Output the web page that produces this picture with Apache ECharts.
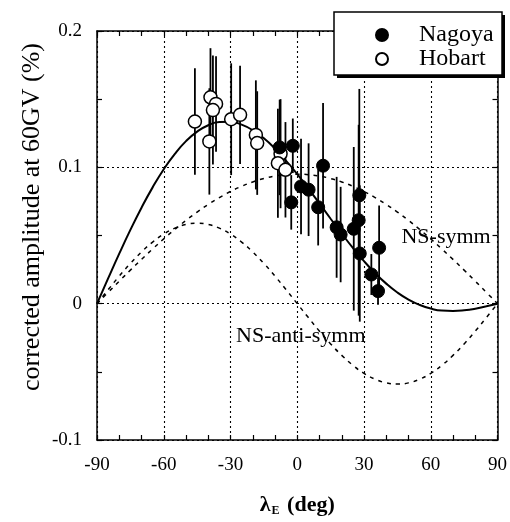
<!DOCTYPE html>
<html><head><meta charset="utf-8">
<script src="https://cdn.jsdelivr.net/npm/echarts@6/dist/echarts.min.js"></script>
<style>html,body{margin:0;padding:0;background:#fff}#c{width:510px;height:522px}</style>
</head><body><div id="c"></div>
<script>
// ---- data ----
const xTickLabels = ['-90','-60','-30','0','30','60','90'];
const yTickLabels = ['-0.1','0','0.1','0.2'];

const nagoyaLat = [-7.9, -2.0, -2.7, 1.7, 5.1, 11.6, 9.4, 17.7, 19.5, 27.9, 27.6, 25.4, 28.1, 36.8, 33.3, 36.3];
const nagoyaAmp = [0.1146, 0.1158, 0.0743, 0.086, 0.0836, 0.1012, 0.0707, 0.056, 0.0507, 0.0795, 0.0612, 0.0549, 0.0368, 0.041, 0.0214, 0.0092];
const nagoyaErr = [0.035, 0.02, 0.02, 0.035, 0.034, 0.046, 0.028, 0.037, 0.035, 0.078, 0.07, 0.06, 0.05, 0.031, 0.015, 0.01];

const hobartLat = [-46.0, -39.0, -36.5, -37.9, -39.5, -29.7, -25.7, -18.6, -18.0, -7.5, -8.7, -5.3];
const hobartAmp = [0.1336, 0.1514, 0.1465, 0.142, 0.119, 0.1353, 0.1385, 0.1238, 0.1178, 0.110, 0.103, 0.0982];
const hobartErr = [0.039, 0.036, 0.035, 0.04, 0.039, 0.041, 0.036, 0.04, 0.038, 0.04, 0.04, 0.035];

const curveLat = [-90,-85,-80,-75,-70,-65,-60,-55,-50,-45,-40,-35,-30,-25,-20,-15,-10,-5,0,5,10,15,20,25,30,35,40,45,50,55,60,65,70,75,80,85,90];
const symmCurve = [0, 0.0083, 0.0165, 0.0246, 0.0325, 0.0401, 0.0475, 0.0545, 0.0611, 0.0672, 0.0728, 0.0778, 0.0823, 0.0861, 0.0893, 0.0918, 0.0936, 0.0946, 0.095, 0.0946, 0.0936, 0.0918, 0.0893, 0.0861, 0.0823, 0.0778, 0.0728, 0.0672, 0.0611, 0.0545, 0.0475, 0.0401, 0.0325, 0.0246, 0.0165, 0.0083, 0];
const antiCurve = [0, 0.0102, 0.0202, 0.0295, 0.0379, 0.0452, 0.0511, 0.0554, 0.0581, 0.059, 0.0581, 0.0554, 0.0511, 0.0452, 0.0379, 0.0295, 0.0202, 0.0102, 0, -0.0102, -0.0202, -0.0295, -0.0379, -0.0452, -0.0511, -0.0554, -0.0581, -0.059, -0.0581, -0.0554, -0.0511, -0.0452, -0.0379, -0.0295, -0.0202, -0.0102, 0];
const totalCurve = [0, 0.0185, 0.0367, 0.0541, 0.0704, 0.0853, 0.0986, 0.1099, 0.1192, 0.1262, 0.1309, 0.1332, 0.1334, 0.1313, 0.1272, 0.1213, 0.1138, 0.1048, 0.095, 0.0844, 0.0734, 0.0623, 0.0514, 0.0409, 0.0312, 0.0224, 0.0147, 0.0082, 0.003, -0.0009, -0.0036, -0.0051, -0.0054, -0.0049, -0.0037, -0.0019, 0];

// ---- chart ----
const F = "'Liberation Serif','Times New Roman',serif";
const chart = echarts.init(document.getElementById('c'));
const pair = (xs, ys) => xs.map((x, i) => [x, ys[i]]);
const bars = (xs, ys, es) => xs.map((x, i) => [x, ys[i] - es[i], ys[i] + es[i]]);
const fmtX = v => { const i = xTickLabels.indexOf(String(Math.round(v))); return i >= 0 ? xTickLabels[i] : ''; };
const fmtY = v => { const s = String(Math.round(v * 10) / 10); const i = yTickLabels.indexOf(s); return i >= 0 ? yTickLabels[i] : ''; };

const lineK = {color: '#000', width: 1.5};
const tickK = {inside: true, length: 5, lineStyle: {color: '#000', width: 1.2}};
function xAx(pos, main) {
  return {
    type: 'value', min: -90, max: 90, interval: 30, position: pos,
    axisLine: {show: true, onZero: false, lineStyle: lineK},
    axisTick: tickK,
    minorTick: {show: true, splitNumber: 3, length: 5, lineStyle: {color: '#000', width: 1.2}},
    splitLine: {show: main, lineStyle: {type: [2, 3], color: '#000', width: 1.1}},
    axisLabel: {show: main, formatter: fmtX, fontFamily: F, fontSize: 19, color: '#000', margin: 16},
    name: main ? '{a|λ}{b|E}{a| (deg)}' : '', nameLocation: 'middle', nameGap: 53,
    nameTextStyle: {rich: {
      a: {fontFamily: F, fontSize: 22, fontWeight: 'bold', color: '#000'},
      b: {fontFamily: F, fontSize: 12, fontWeight: 'bold', color: '#000', padding: [12, 2, 0, 1]}
    }}
  };
}
function yAx(pos, main) {
  return {
    type: 'value', min: -0.1, max: 0.2, interval: 0.1, position: pos,
    axisLine: {show: true, onZero: false, lineStyle: lineK},
    axisTick: tickK,
    minorTick: {show: true, splitNumber: 2, length: 5, lineStyle: {color: '#000', width: 1.2}},
    splitLine: {show: main, lineStyle: {type: [2, 3], color: '#000', width: 1.1}},
    axisLabel: {show: main, formatter: fmtY, fontFamily: F, fontSize: 19, color: '#000', margin: 15}
  };
}
const errSeries = (data) => ({
  type: 'custom', xAxisIndex: 0, yAxisIndex: 0, silent: true, z: 3,
  encode: {x: 0, y: [1, 2]}, data: data,
  renderItem: (params, api) => {
    const p1 = api.coord([api.value(0), api.value(1)]);
    const p2 = api.coord([api.value(0), api.value(2)]);
    return {type: 'line', shape: {x1: p1[0], y1: p1[1], x2: p2[0], y2: p2[1]}, style: {stroke: '#000', lineWidth: 1.8}};
  }
});

chart.setOption({
  animation: false,
  backgroundColor: '#fff',
  grid: {left: 97, top: 31, width: 406, height: 410},
  xAxis: [xAx('bottom', true), xAx('top', false)],
  yAxis: [yAx('left', true), yAx('right', false)],
  legend: {
    data: [{name: 'Nagoya', icon: 'circle'}, {name: 'Hobart', icon: 'circle'}],
    orient: 'vertical', left: 334, top: 12, itemWidth: 12, itemHeight: 12, itemGap: 0, z: 12,
    padding: [11, 10, 12, 41], backgroundColor: 'transparent', borderWidth: 0,
    textStyle: {fontFamily: F, fontSize: 24, color: '#000', lineHeight: 20, padding: [0, 0, 0, 26]},
    selectedMode: false
  },
  graphic: [
    {type: 'rect', z: 10, shape: {x: 337, y: 15, width: 168, height: 63}, style: {fill: '#000'}},
    {type: 'rect', z: 11, shape: {x: 334, y: 12, width: 168, height: 63}, style: {fill: '#fff', stroke: '#000', lineWidth: 1.5}},
    {type: 'text', x: 32, y: 217, rotation: Math.PI / 2,
     style: {text: 'corrected amplitude at 60GV (%)', fontFamily: F, fontSize: 26, fill: '#000', align: 'center', verticalAlign: 'middle'}}
  ],
  series: [
    {name: 'NS-symm', type: 'line', data: pair(curveLat, symmCurve), smooth: true, symbol: 'none', z: 2,
     lineStyle: {color: '#000', width: 1.5, type: [4, 5]},
     markPoint: {symbol: 'circle', symbolSize: 0, silent: true, data: [{coord: [66.9, 0.0485]}],
       label: {show: true, formatter: 'NS-symm', fontFamily: F, fontSize: 22, color: '#000', position: 'inside'}}},
    {name: 'NS-anti-symm', type: 'line', data: pair(curveLat, antiCurve), smooth: true, symbol: 'none', z: 2,
     lineStyle: {color: '#000', width: 1.5, type: [4, 5]},
     markPoint: {symbol: 'circle', symbolSize: 0, silent: true, data: [{coord: [1.6, -0.024]}],
       label: {show: true, formatter: 'NS-anti-symm', fontFamily: F, fontSize: 22, color: '#000', position: 'inside'}}},
    {name: 'sum', type: 'line', data: pair(curveLat, totalCurve), smooth: true, symbol: 'none', z: 2,
     lineStyle: {color: '#000', width: 2}},
    errSeries(bars(hobartLat, hobartAmp, hobartErr)),
    errSeries(bars(nagoyaLat, nagoyaAmp, nagoyaErr)),
    {name: 'Hobart', type: 'scatter', data: pair(hobartLat, hobartAmp), symbol: 'circle', symbolSize: 13, z: 5,
     itemStyle: {color: '#fff', borderColor: '#000', borderWidth: 1.5, opacity: 1}},
    {name: 'Nagoya', type: 'scatter', data: pair(nagoyaLat, nagoyaAmp), symbol: 'circle', symbolSize: 13, z: 6,
     itemStyle: {color: '#000', borderColor: '#000', borderWidth: 1, opacity: 1}}
  ]
});
</script></body></html>
